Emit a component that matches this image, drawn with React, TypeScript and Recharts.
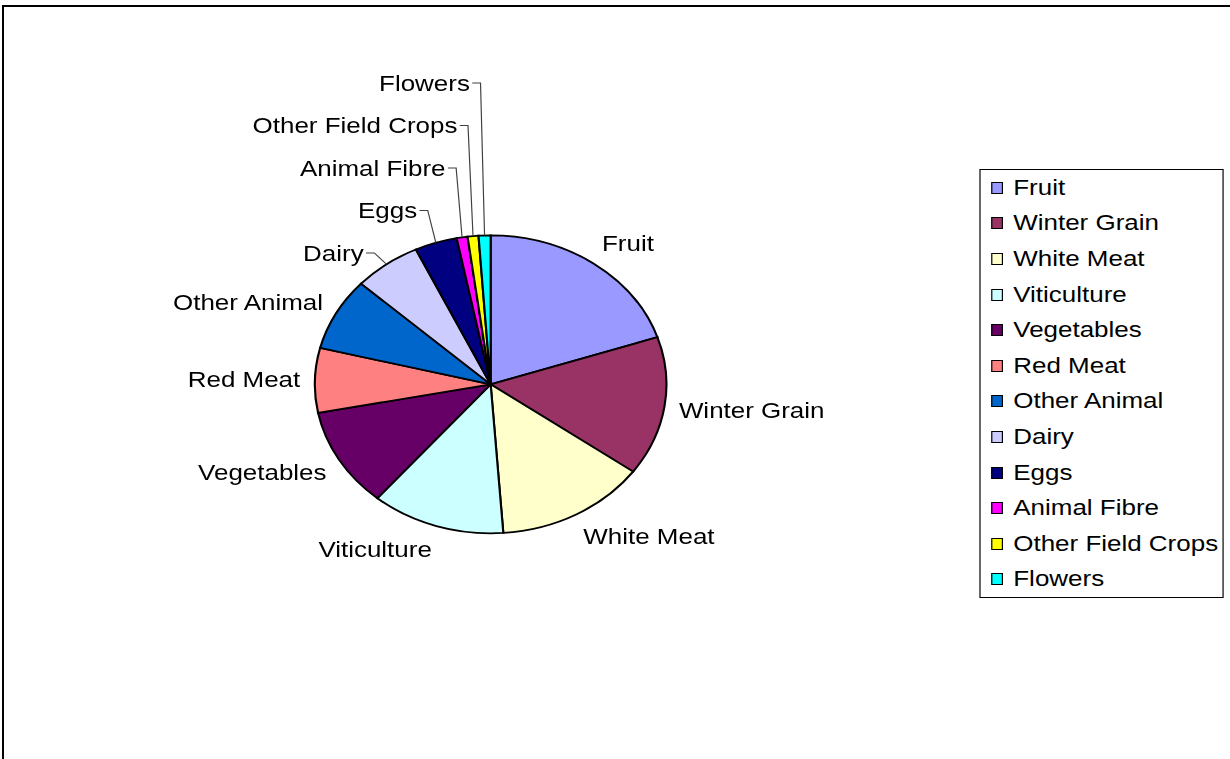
import { PieChart, Pie, Cell, Legend } from 'recharts';

// farm output share by commodity (%), read clockwise from 12 o'clock
const categories = [
  'Fruit',
  'Winter Grain',
  'White Meat',
  'Viticulture',
  'Vegetables',
  'Red Meat',
  'Other Animal',
  'Dairy',
  'Eggs',
  'Animal Fibre',
  'Other Field Crops',
  'Flowers',
];
const shares = [19.9, 15.1, 13.9, 12.3, 10.8, 7.0, 7.9, 6.2, 3.9, 1.0, 1.0, 1.1];
const colors = [
  '#9999FF', '#993366', '#FFFFCC', '#CCFFFF', '#660066', '#FF8080',
  '#0066CC', '#CCCCFF', '#000080', '#FF00FF', '#FFFF00', '#00FFFF',
];

const chartData = categories.map((name, i) => ({ name, value: shares[i] }));

// the original chart is stretched sideways, so draw it round and stretch it
const STRETCH = 1.18;
const W = 1230 / STRETCH;
const H = 759;
const CX = 415.8;
const CY = 384.3;
const R = 149;
const FONT = '"Liberation Sans", Arial, Helvetica, sans-serif';
const LABEL_GAP = 12.4;
const LABEL_H = 25;
const STACK = 42.5;
const RAD = Math.PI / 180;

// Excel style label placement: outside the slice, crowded ones pushed up with leader lines
function layoutLabels() {
  const total = shares.reduce((a, b) => a + b, 0);
  let acc = 0;
  const items = shares.map((v, i) => {
    const mid = 90 - (360 * (acc + v / 2)) / total;
    acc += v;
    const dx = Math.cos(mid * RAD);
    const dy = -Math.sin(mid * RAD);
    const rr = R + LABEL_GAP;
    return {
      i,
      left: dx < 0,
      x: CX + rr * dx,
      y: CY + rr * dy + (dy * LABEL_H) / 2,
      ex: CX + R * dx,
      ey: CY + R * dy,
      moved: false,
    };
  });

  const leftSide = items.filter((it) => it.left);
  for (let k = 1; k < leftSide.length; k++) {
    const prev = leftSide[k - 1];
    const cur = leftSide[k];
    const overlap = STACK - (prev.y - cur.y);
    if (overlap > 0) {
      if (!prev.moved) {
        prev.y += overlap / 2;
        prev.moved = true;
        prev.x -= 12;
      }
      cur.y = prev.y - STACK;
      cur.moved = true;
      cur.x -= 12;
    }
  }
  return items;
}

const labelLayout = layoutLabels();

const renderLabel = (props: any) => {
  const item = labelLayout[props.index];
  const anchor = item.left ? 'end' : 'start';
  const sx = item.left ? item.x + 2 : item.x - 2;
  const hx = item.left ? item.x + 9 : item.x - 9;
  return (
    <g>
      {item.moved && (
        <polyline
          points={`${sx},${item.y} ${hx},${item.y} ${item.ex},${item.ey}`}
          fill="none"
          stroke="#404040"
          strokeWidth={1}
        />
      )}
      <text
        x={item.x}
        y={item.y}
        textAnchor={anchor}
        dominantBaseline="central"
        fontFamily={FONT}
        fontSize={22}
        fill="#000"
      >
        {categories[props.index]}
      </text>
    </g>
  );
};

const renderLegend = (props: any) => {
  const entries = [...(props.payload || [])].sort(
    (a: any, b: any) => categories.indexOf(a.value) - categories.indexOf(b.value)
  );
  return (
    <div
      style={{
        border: '1px solid #000',
        background: '#fff',
        fontFamily: FONT,
        fontSize: 22,
        color: '#000',
      }}
    >
      {entries.map((entry: any) => {
        const idx = categories.indexOf(entry.value);
        return (
          <div
            key={entry.value}
            style={{ height: 35.6, display: 'flex', alignItems: 'center', whiteSpace: 'nowrap' }}
          >
            <span
              style={{
                display: 'inline-block',
                width: 10,
                height: 12,
                boxSizing: 'border-box',
                border: '1px solid #000',
                background: colors[idx],
                marginLeft: 9,
                marginRight: 9,
              }}
            />
            <span>{entry.value}</span>
          </div>
        );
      })}
    </div>
  );
};

export default function App() {
  return (
    <div
      style={{
        position: 'absolute',
        left: 0,
        top: 0,
        width: 1230,
        height: 759,
        overflow: 'hidden',
        background: '#fff',
      }}
    >
      {/* chart frame, it runs past the right and bottom edges */}
      <div
        style={{
          position: 'absolute',
          left: 2,
          top: 5,
          width: 1400,
          height: 900,
          borderLeft: '2px solid #000',
          borderTop: '2px solid #000',
        }}
      />
      <div
        style={{
          position: 'absolute',
          left: 0,
          top: 0,
          width: W,
          height: H,
          transform: `scaleX(${STRETCH})`,
          transformOrigin: '0 0',
        }}
      >
        <PieChart width={W} height={H} margin={{ top: 0, right: 0, bottom: 0, left: 0 }}>
          <Pie
            data={chartData}
            dataKey="value"
            nameKey="name"
            cx={CX}
            cy={CY}
            outerRadius={R}
            startAngle={90}
            endAngle={-270}
            stroke="#000"
            strokeWidth={1.8}
            label={renderLabel}
            labelLine={false}
            isAnimationActive={false}
          >
            {chartData.map((d, i) => (
              <Cell key={d.name} fill={colors[i]} />
            ))}
          </Pie>
          <Legend
            layout="vertical"
            align="right"
            verticalAlign="top"
            itemSorter={null as any}
            content={renderLegend}
            wrapperStyle={{ left: 829.7, top: 169, width: 207, right: 'auto', bottom: 'auto' }}
          />
        </PieChart>
      </div>
    </div>
  );
}
